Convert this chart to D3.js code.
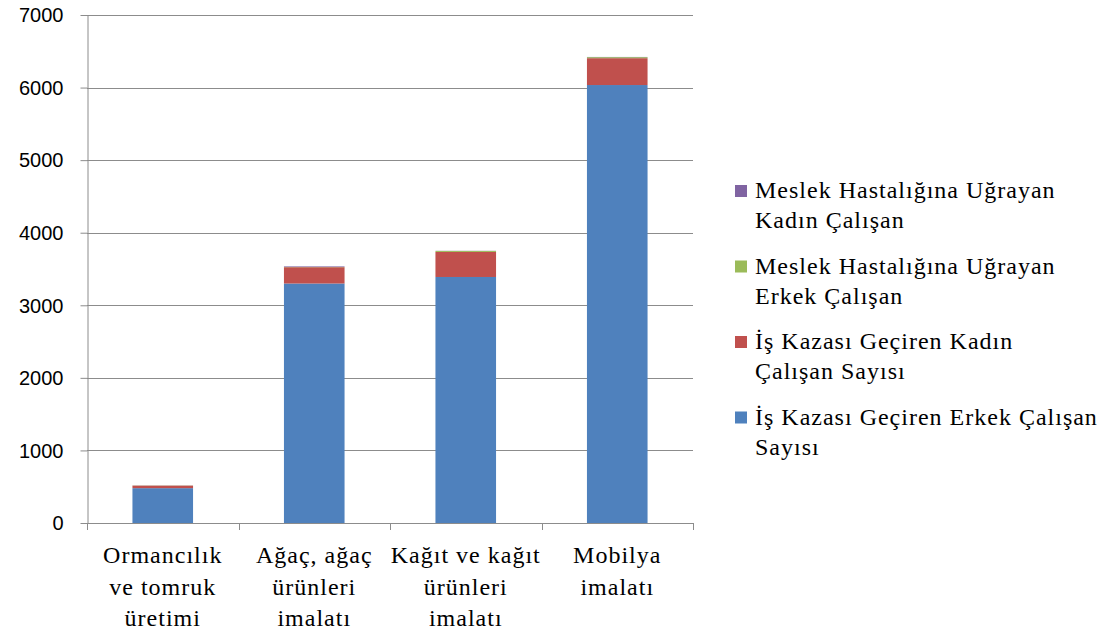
<!DOCTYPE html>
<html>
<head>
<meta charset="utf-8">
<script src="https://cdn.jsdelivr.net/npm/d3@7"></script>
<style>
  body { margin: 0; background: #fff; }
  svg { display: block; }
  .label { font-family: "Liberation Serif", "Times New Roman", "Liberation Sans", sans-serif; letter-spacing: 1px; }
  .sans { font-family: "Liberation Sans", Arial, sans-serif; }
</style>
</head>
<body>
<svg id="chart" width="1113" height="634"></svg>
<script>
// Sector categories (x axis), each drawn over up to three lines
const categories = [
  ["Ormancılık", "ve tomruk", "üretimi"],
  ["Ağaç, ağaç", "ürünleri", "imalatı"],
  ["Kağıt ve kağıt", "ürünleri", "imalatı"],
  ["Mobilya", "imalatı"]
];

// Series, bottom of the stack first
const seriesNames = [
  "İş Kazası Geçiren Erkek Çalışan Sayısı",
  "İş Kazası Geçiren Kadın Çalışan Sayısı",
  "Meslek Hastalığına Uğrayan Erkek Çalışan",
  "Meslek Hastalığına Uğrayan Kadın Çalışan"
];
const accidentMale   = [480, 3300, 3390, 6035];
const accidentFemale = [35, 225, 345, 370];
const diseaseMale    = [2, 3, 14, 14];
const diseaseFemale  = [1, 8, 2, 3];

// Legend entries, top to bottom, as wrapped lines
const legendLines = [
  ["Meslek Hastalığına Uğrayan", "Kadın Çalışan"],
  ["Meslek Hastalığına Uğrayan", "Erkek Çalışan"],
  ["İş Kazası Geçiren Kadın", "Çalışan Sayısı"],
  ["İş Kazası Geçiren Erkek Çalışan", "Sayısı"]
];
const legendSeries = [3, 2, 1, 0];

const yTicks = [0, 1000, 2000, 3000, 4000, 5000, 6000, 7000];
const colors = ["#4F81BD", "#C0504D", "#9BBB59", "#8064A2"];

(function draw() {
  const svg = d3.select("#chart");
  const plotL = 87, plotR = 693, plotT = 15, plotB = 523;

  const x = d3.scaleBand().domain(d3.range(categories.length))
    .range([plotL, plotR]).paddingInner(0.6).paddingOuter(0.3);
  const xBand = d3.scaleBand().domain(d3.range(categories.length)).range([plotL, plotR]);
  const y = d3.scaleLinear().domain([0, 7000]).range([plotB, plotT]);

  // Horizontal gridlines
  svg.append("g").selectAll("line").data(yTicks).join("line")
    .attr("x1", plotL).attr("x2", plotR)
    .attr("y1", d => Math.round(y(d)) + 0.5).attr("y2", d => Math.round(y(d)) + 0.5)
    .attr("stroke", "#8c8c8c").attr("stroke-width", 1);

  // Stacked bars
  const rows = categories.map((c, i) => ({
    i, s0: accidentMale[i], s1: accidentFemale[i], s2: diseaseMale[i], s3: diseaseFemale[i]
  }));
  const stack = d3.stack().keys(["s0", "s1", "s2", "s3"])(rows);
  svg.append("g").selectAll("g").data(stack).join("g")
    .attr("fill", (d, k) => colors[k])
    .selectAll("rect").data(d => d).join("rect")
    .attr("x", d => x(d.data.i))
    .attr("width", x.bandwidth())
    .attr("y", d => y(d[1]))
    .attr("height", d => Math.max(0, y(d[0]) - y(d[1])));

  // Y axis
  const yAxis = svg.append("g").attr("transform", `translate(${plotL + 0.5},0)`)
    .call(d3.axisLeft(y).tickValues(yTicks).tickFormat(d3.format("d"))
      .tickSize(7).tickSizeOuter(0).tickPadding(17));
  yAxis.attr("font-family", null).attr("font-size", null).attr("class", "sans");
  yAxis.select(".domain").attr("stroke", "#8c8c8c");
  yAxis.selectAll(".tick line").attr("stroke", "#8c8c8c");
  yAxis.selectAll(".tick text").attr("font-size", 20).attr("fill", "#000").attr("dy", "0.34em");

  // X axis line and category boundary ticks
  const xg = svg.append("g");
  xg.append("line").attr("x1", plotL).attr("x2", plotR)
    .attr("y1", plotB + 0.5).attr("y2", plotB + 0.5).attr("stroke", "#8c8c8c");
  const bounds = d3.range(categories.length).map(i => xBand(i)).concat([plotR]);
  xg.selectAll(".bt").data(bounds).join("line")
    .attr("x1", d => Math.round(d) + 0.5).attr("x2", d => Math.round(d) + 0.5)
    .attr("y1", plotB).attr("y2", plotB + 7).attr("stroke", "#8c8c8c");

  // Category labels
  xg.selectAll(".cat").data(categories).join("text")
    .attr("class", "label")
    .attr("text-anchor", "middle")
    .attr("font-size", 24).attr("fill", "#000")
    .each(function (lines, i) {
      const t = d3.select(this);
      lines.forEach((ln, j) => {
        t.append("tspan").attr("x", xBand(i) + xBand.bandwidth() / 2)
          .attr("y", 563 + j * 31.5).text(ln);
      });
    });

  // Legend
  const lg = svg.append("g");
  legendLines.forEach((lines, k) => {
    const y0 = 198 + k * 75.5;
    lg.append("rect").attr("x", 735).attr("y", y0 - 13)
      .attr("width", 12).attr("height", 12).attr("fill", colors[legendSeries[k]]);
    const t = lg.append("text").attr("class", "label")
      .attr("font-size", 24).attr("fill", "#000");
    lines.forEach((ln, j) => {
      t.append("tspan").attr("x", 755).attr("y", y0 + j * 30).text(ln);
    });
  });
})();
</script>
</body>
</html>
